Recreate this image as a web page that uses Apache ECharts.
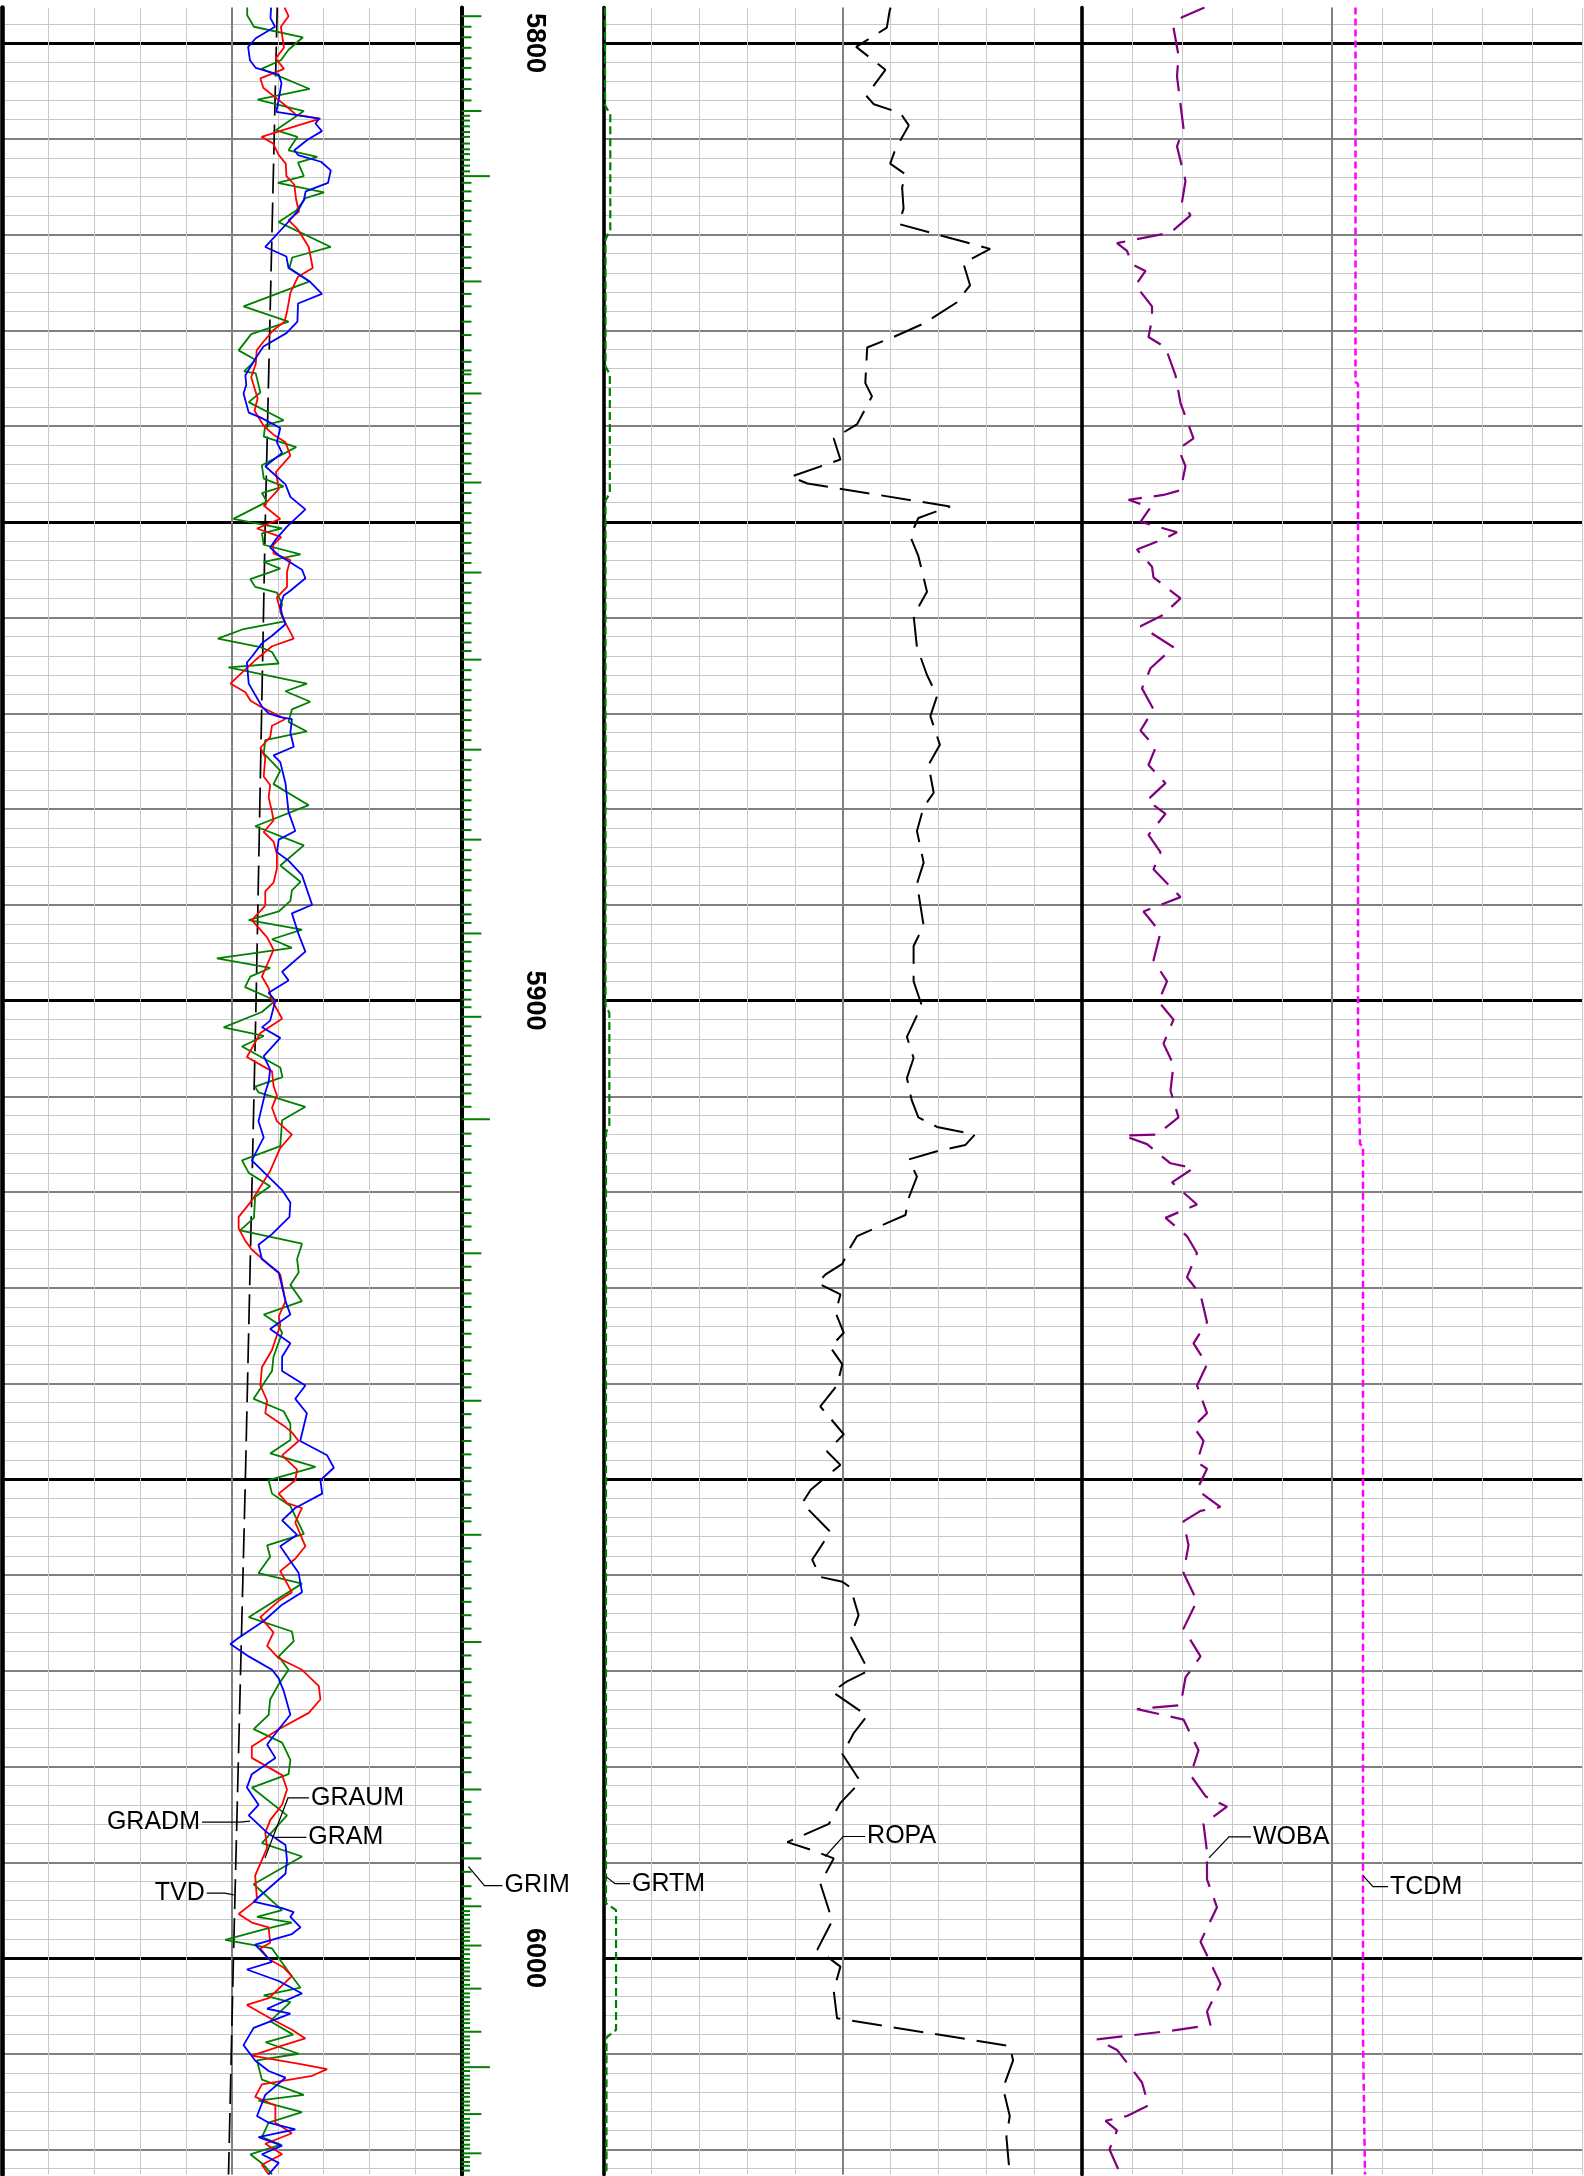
<!DOCTYPE html>
<html><head><meta charset="utf-8">
<script src="https://cdn.jsdelivr.net/npm/echarts@6/dist/echarts.min.js"></script>
<style>html,body{margin:0;padding:0;background:#fff}#c{width:1584px;height:2176px}</style>
</head><body><div id="c"></div>
<script>
const DEPTH_MIN = 5796.3, DEPTH_MAX = 6022.6;
const depthLabels = [5800, 5900, 6000];

// [depth, value] pairs
const GRAM = [[5796.3,80],[5797.1,80],[5798.3,82.2],[5799.4,98.2],[5800.7,93.5],[5801.8,91],[5802.7,84.7],[5804.8,100.4],[5805.9,83.4],[5807.1,98.5],[5809.1,89.3],[5809.8,96.4],[5811.2,93.5],[5811.9,102.9],[5812.5,96.6],[5813.9,98.5],[5814.6,90],[5815.6,105.1],[5816.2,99],[5817.5,96],[5818.7,90.3],[5821.3,107.3],[5822.4,94.7],[5823.5,93.8],[5824.9,100.4],[5827.5,78.8],[5829.1,93.5],[5830.4,81.3],[5832.1,77.2],[5833.1,82.8],[5834.3,79],[5834.5,82.8],[5836.5,84.3],[5837.5,80.5],[5839.4,91.9],[5839.9,85.9],[5841.1,85.4],[5842.2,96],[5844.1,84.8],[5845.5,85.4],[5846.3,91.9],[5847,84.8],[5847.9,86.5],[5849.7,75.5],[5850.7,91.4],[5851.2,84.8],[5852.4,85.4],[5853.4,97.4],[5854.2,85.4],[5854.9,90.8],[5856,81],[5856.8,82.6],[5857.4,89.7],[5858.6,91.4],[5859.4,90.8],[5860.4,92.2],[5861.2,78.8],[5862.2,70.4],[5863.1,84.3],[5863.6,88.1],[5864.8,90.3],[5865.2,73.9],[5866.9,99.5],[5867.7,92.5],[5868.8,100.6],[5869.6,94.6],[5870.9,93.5],[5871.9,99.5],[5872.8,85.9],[5874.2,85.4],[5876,90.8],[5877.4,88.6],[5879.6,100.1],[5881.8,82.6],[5883.8,98.5],[5885.9,90.8],[5887.6,97.4],[5888.5,94.6],[5889.6,94.1],[5890.7,90.3],[5891.6,80.5],[5892.6,97.9],[5893.6,88.1],[5894.5,94.6],[5895.6,70.1],[5896.6,87.5],[5897.5,81],[5898.6,79.3],[5900,89.2],[5901.2,84.8],[5902.8,72.3],[5903.7,85.4],[5904.8,78.3],[5907,90.8],[5908,91.5],[5909,82.6],[5909.6,83.7],[5911.1,99],[5912.5,91.4],[5915.2,90.8],[5916.7,78.3],[5918,80.5],[5919.4,87.5],[5920.5,82.6],[5922.7,82.2],[5924,77.7],[5925.4,97.9],[5927,96.3],[5928.4,96.8],[5929.7,94.1],[5931.4,97.9],[5932.8,85.4],[5933.7,89.7],[5934.7,91.4],[5937.2,88.6],[5938.7,88.1],[5941.6,82.1],[5942.9,91.9],[5944.2,94.1],[5945.9,94.1],[5947.3,87.5],[5948.7,102.3],[5950.1,87],[5951.5,88.1],[5952.8,94.1],[5955.7,98.5],[5956.9,86.5],[5958.1,87.5],[5959.8,83.7],[5960.9,97.9],[5964.4,80.5],[5965.9,94.6],[5966.9,95.2],[5968.5,90.3],[5969.9,93.5],[5971.4,90.3],[5973,87.5],[5974.6,87],[5976.1,82.1],[5977.5,91.4],[5979.3,94.1],[5980.8,93.5],[5982.2,81.5],[5985.1,93],[5988,84.8],[5989.4,97.9],[5992.3,82.1],[5995,91.4],[5995.7,83.2],[5996.3,94.6],[5997,85.4],[5998.1,72.8],[5999,88.1],[6000,90.3],[6001.7,94.1],[6003.1,97.4],[6003.9,85.4],[6004.6,94.1],[6006.6,87.5],[6008,95],[6008.8,86],[6010,96.8],[6010.7,83.2],[6012.7,84.8],[6014.3,98.5],[6014.9,83.7],[6016.1,97.9],[6017.2,87],[6018.7,84.8],[6019.5,91],[6020.5,81],[6021.6,85.4],[6022.6,88.1]];

const GRAUM = [[5796.3,92.2],[5797.2,93.5],[5798.3,91],[5800.5,92],[5801.6,89.3],[5802.7,92],[5803.7,84.3],[5804.7,85.3],[5805.7,89.3],[5806.6,92.8],[5807.5,96],[5807.9,103.9],[5808.6,96.6],[5809.8,84.7],[5810.5,88.5],[5811.7,90.3],[5812.6,92.6],[5813.9,92.8],[5814.8,95.4],[5816.4,96],[5817.6,96.9],[5818.5,93.5],[5819.5,96.6],[5821.3,100.1],[5823.5,101.4],[5824.4,96.6],[5826.1,94.1],[5827.9,93.1],[5829.1,92.2],[5830,88.5],[5831.2,85.3],[5832.1,83.1],[5833.5,82.8],[5834.9,81.3],[5837.1,83.4],[5838.4,82.4],[5840,85.4],[5840.9,88.6],[5841.7,92.5],[5843.1,94.1],[5844.8,89.4],[5846.6,90.3],[5848.3,85.4],[5849,88.1],[5849.7,90.8],[5850.7,83.2],[5851.6,91.1],[5852.4,88.5],[5853.3,88.6],[5854,94.1],[5855.2,93],[5856.8,93],[5857.9,89.7],[5859.9,91.4],[5862.2,95.2],[5863,88.1],[5864.3,83.2],[5865.6,78.8],[5866.9,74.5],[5867.8,79.4],[5868.7,81.1],[5869.3,84.3],[5870.6,92.5],[5871.3,88.1],[5872.5,87.5],[5873.6,84.3],[5874.6,85.9],[5876.6,85.4],[5877.5,87.5],[5878.8,87],[5880.3,88.1],[5881.2,88.6],[5882.4,85.4],[5883.4,88.6],[5884.7,89.7],[5886.2,89.7],[5887.7,88.6],[5888.6,85.9],[5890.1,85.9],[5891.6,81.5],[5893.4,86.5],[5894.7,88.6],[5897.5,84.8],[5898.7,87],[5900,88.1],[5901.9,91.4],[5903.4,84.3],[5905.9,79.9],[5907.4,88.1],[5908.9,88.6],[5909.9,89.7],[5911.2,88.1],[5912.6,89.7],[5914,94.6],[5915.4,90.8],[5917.8,87.5],[5920.9,81.5],[5922.6,77.2],[5923.8,77.2],[5925.1,79.4],[5926,81.5],[5927.9,88.1],[5928.6,90.8],[5931.4,92.5],[5933,90.3],[5933.9,90.8],[5936.5,88.1],[5938.3,84.8],[5940.2,84.3],[5941.8,86.5],[5943.1,85.9],[5944.4,91.9],[5945.1,94.6],[5946,96.8],[5947.5,91.4],[5949,96.3],[5950.1,95.7],[5951.5,90.3],[5952.5,93],[5953,97.9],[5954.5,95.7],[5957,99],[5958.3,95.7],[5959.6,90.8],[5961.8,94.6],[5962.7,90.3],[5964.4,84.3],[5966,88.6],[5967.4,86.5],[5968.7,90.3],[5969.9,97.9],[5971.6,103.4],[5973,103.9],[5974.4,100.1],[5976.1,90.3],[5977.9,81.5],[5979.1,81.5],[5980.9,91.4],[5982.4,93],[5984,91.4],[5985.6,87.5],[5986.9,85.9],[5988.5,86.5],[5991.4,82.6],[5993.9,83.2],[5995.4,77.2],[5996.3,81.5],[5996.8,87],[5998.4,87.5],[5999,84.3],[6000.1,87],[6001,91.9],[6001.9,94.6],[6004.2,87],[6004.9,79.9],[6006.4,88.1],[6007.5,94.6],[6008.4,99],[6009.1,91.9],[6010.2,81.5],[6011.1,97.9],[6011.6,106.1],[6012.3,101.2],[6013.2,84.8],[6014.5,82.6],[6015.4,89.2],[6017.2,89.2],[6018.3,94.6],[6019.4,85.9],[6020.5,91.4],[6021.6,84.8],[6022.6,87]];

const GRADM = [[5796.3,87.8],[5797.4,87.6],[5798.3,89.1],[5799.5,82.8],[5800.4,80.3],[5801.8,80.9],[5802.6,82.8],[5803.3,90.3],[5804.2,91.2],[5805.9,90.3],[5807.2,89.5],[5807.9,103.5],[5808.4,102.3],[5809.2,104.4],[5810.1,99.7],[5811.2,95.4],[5811.7,96.6],[5812.4,104.1],[5813.3,107.3],[5814.6,106.4],[5815.5,99.1],[5816.4,98.5],[5817.5,96.6],[5818.9,92.8],[5821.3,85.9],[5822.3,92.8],[5823.5,93.5],[5824.9,100.4],[5826.2,104.4],[5827.2,96.6],[5829.1,96.4],[5830.3,92.8],[5831.7,85.3],[5832.9,82.8],[5834.7,79.4],[5835.7,79.7],[5836.6,78.8],[5838.6,80.5],[5839.1,84.3],[5840.2,90.8],[5841.7,89.7],[5842.8,91.4],[5844.2,85.9],[5846.1,92.5],[5847.4,94.1],[5848.7,99],[5850.5,93],[5851.9,89.2],[5852.7,87.5],[5853.5,90.3],[5855,97.9],[5855.9,99],[5857.2,94.1],[5857.7,91.9],[5858.8,90.8],[5859.7,91.4],[5860.7,92.5],[5861.9,88.1],[5862.7,84.8],[5864.1,81.5],[5864.7,79.9],[5866.9,80.5],[5869.3,84.8],[5870,87],[5870.4,90.8],[5870.6,94.6],[5872,94.1],[5873.5,95.2],[5874.4,88.6],[5875.1,90.8],[5877.3,92.5],[5880.3,93.5],[5882.3,95.7],[5883.2,90.3],[5884.5,89.7],[5885.4,93.5],[5886.9,97.9],[5890,101.2],[5890.9,94.6],[5893.1,96.8],[5894.9,99],[5897,91.4],[5897.9,93.5],[5899.2,87],[5900,89.2],[5902.1,87.5],[5902.8,84.8],[5903.9,90.8],[5905.8,85.4],[5907.2,87.5],[5908.5,87],[5909.6,85.9],[5912.6,83.7],[5914.3,85.4],[5916.7,81.5],[5919.8,91.4],[5921.1,94.1],[5922.6,93.8],[5924.4,88.1],[5925.5,83.7],[5927,84.8],[5928.4,90.3],[5931.4,92.5],[5932.8,94.1],[5934.3,87.5],[5935.8,94.1],[5937.2,91.4],[5938.7,91.4],[5940.2,99],[5941.6,95.7],[5943.1,99.5],[5946,97.3],[5947.5,106.1],[5948.8,108.3],[5950.1,103.9],[5951.5,104.5],[5953,95.7],[5954.3,91.4],[5955.8,96.3],[5957,90.8],[5959.8,96.8],[5961.8,97.9],[5963.1,91.4],[5964.8,85.4],[5966.6,77],[5967.2,74.5],[5968.5,80.5],[5969.9,88.1],[5970.8,90.3],[5972.1,91.9],[5974.6,94.1],[5975.9,90.8],[5977.7,86.5],[5979.1,89.2],[5980.8,81.5],[5982.2,79.9],[5984,83.7],[5985.1,80.5],[5986.9,86.5],[5988.2,92.5],[5989.8,93],[5991.2,92.5],[5994.1,82.1],[5994.8,91.4],[5995.2,95.2],[5995.7,94.1],[5996.8,97.4],[5997.5,94.6],[5998.6,82.6],[5999.7,85.9],[6000.4,88.1],[6001.2,79.9],[6002.4,90.3],[6003.7,97.9],[6005.3,86.5],[6005.8,94.1],[6007.3,82.1],[6009.1,78.8],[6010.7,82.6],[6011.8,87],[6012.5,92.5],[6014.3,85.9],[6016.5,83.2],[6017.2,87],[6017.9,95.7],[6018.7,83.7],[6019.6,91.4],[6020.5,84.8],[6021.4,90.3],[6022.6,87]];

const TVD = [[5796.3,89.8],[5850,85.9],[5900,82.9],[5950,79.4],[6000,75.5],[6022.6,73.9]];

const GRIM = [[5797.2,14],[5798.3,7],[5799.4,7],[5800.5,7],[5801.6,7],[5802.6,7],[5803.8,7],[5804.8,7],[5806,7],[5807.1,14],
[5807.6,6],[5808.1,6],[5808.7,6],[5809.3,6],[5809.8,6],[5810.5,6],[5811.1,6],[5811.6,6],[5812.2,6],[5812.8,6],[5813.4,6],[5813.9,20],
[5814.6,7],[5815.5,7],[5816.5,7],[5817.5,7],[5818.6,7],[5820,7],[5821.3,7],[5822.4,7],[5823.5,7],[5824.9,14],[5826.2,7],[5827.5,7],[5829.1,7],[5830.5,7],[5832.1,7],[5833.3,7],[5834.2,7],[5834.6,7],[5835.5,7],[5836.6,14],
[5837.6,7],[5838.7,7],[5839.7,7],[5840.8,7],[5841.8,7],[5842.9,7],[5843.9,7],[5845,7],[5845.9,14],[5847,7],[5848,7],[5849.1,7],[5850.1,7],[5851.2,7],[5852.2,7],[5853.3,7],[5854.3,7],[5855.3,14],[5856.4,7],[5857.4,7],[5858.5,7],[5859.5,7],[5860.6,7],[5861.6,7],[5862.6,7],[5863.5,7],[5864.4,14],[5865.5,7],[5866.5,7],[5867.6,7],[5868.6,7],[5869.7,7],[5870.7,7],[5871.8,7],[5872.8,7],[5873.8,14],[5874.9,7],[5875.9,7],[5877,7],[5878,7],[5879.1,7],[5880.1,7],[5881.1,7],[5882.2,7],[5883.2,14],[5884.3,7],[5885.3,7],[5886.4,7],[5887.4,7],[5888.5,7],
[5890,7],[5891,7],[5891.9,7],[5893,14],[5893.9,7],[5894.9,7],[5895.9,7],[5896.9,7],[5897.9,7],[5898.9,7],[5899.9,7],[5900.7,7],[5901.7,14],[5902.7,7],[5903.7,7],[5904.7,7],[5905.8,7],[5906.7,7],[5907.7,7],[5908.8,7],[5909.7,7],[5911.1,7],[5912.4,20],[5913.9,7],[5915.2,7],[5916.6,7],[5918,7],[5919.4,7],
[5920.8,7],[5922.2,7],[5923.6,7],[5925,7],[5926.4,14],[5927.8,7],[5929.2,7],[5930.6,7],[5932,7],[5933.4,7],[5934.8,7],[5936.2,7],[5937.6,7],[5939,7],[5940.4,7],[5941.8,14],[5943.2,7],[5944.6,7],[5946,7],[5947.4,7],[5948.8,7],[5950.2,7],[5951.6,7],[5953,7],[5954.4,7],[5955.8,14],[5957.2,7],[5958.6,7],[5960,7],[5961.4,7],[5962.8,7],[5964.2,7],[5965.6,7],[5967,14],[5968.4,7],[5969.8,7],[5971.2,7],[5972.6,7],[5974,7],[5975.4,7],[5976.8,7],[5978,7],
[5979.1,7],[5980.6,7],[5982.4,14],[5983.7,7],[5985,7],[5986.4,7],[5988,7],[5989.6,14],[5991,7],[5992.5,7],[5993.8,7],
[5994.6,14],[5995.1,6],[5995.5,6],[5996,6],[5996.4,6],[5996.9,6],[5997.3,6],[5997.8,6],[5998.2,6],[5998.7,14],[5999.1,6],[5999.6,6],[6000.1,6],[6000.5,6],[6001,6],[6001.4,6],[6001.9,6],[6002.3,6],[6002.8,6],[6003.2,14],[6003.7,6],[6004.1,6],[6004.6,6],[6005,6],[6005.5,6],[6005.9,6],[6006.4,6],[6006.8,6],[6007.3,6],[6007.7,14],[6008.2,6],[6008.6,6],[6009.1,6],[6009.5,6],[6010,6],[6010.4,6],[6010.9,6],[6011.4,20],[6011.8,6],[6012.3,6],[6012.7,6],[6013.2,6],[6013.6,6],[6014.1,6],[6014.5,6],[6015,6],[6015.4,6],[6015.9,6],[6016.3,14],[6016.8,6],[6017.2,6],[6017.7,6],[6018.1,6],[6018.6,6],[6019,6],[6019.5,6],[6019.9,6],[6020.4,14],[6020.8,6],[6021.3,6],[6021.7,6],[6022.2,6]];

const GRTM = [[5796.3,0.3],[5806.5,0.3],[5807.5,1.4],[5819.5,1.4],[5820.5,0.4],[5833.8,0.4],[5834.6,1.3],[5847,1.3],[5847.8,0.4],[5900.5,0.4],[5901.3,1.2],[5913,1.2],[5913.8,0.5],[5994.3,0.5],[5995,2.6],[6007.5,2.6],[6008.3,0.6],[6022.6,0.6]];

const ROPA = [[5796.3,60],[5796.6,59.8],[5798.4,59.2],[5800.4,52.8],[5802.8,58.9],[5805.5,54.9],[5806.4,56.5],[5807.3,62],[5808.6,63.8],[5811.1,61],[5812.6,59.9],[5813.7,63.1],[5815.1,62.4],[5817.3,62.7],[5818.9,61.7],[5821.5,80.8],[5823,75.2],[5825.3,76.6],[5827.1,73.8],[5829.3,66.9],[5830.7,60.6],[5831.8,55.1],[5835.5,54.7],[5836.9,56.1],[5839.8,53],[5841.3,48.1],[5843.5,49.5],[5845.3,39.1],[5846,42.6],[5848.4,72.4],[5849.6,65.8],[5851.5,64.1],[5853.6,65.8],[5857.3,67.6],[5859.8,64.8],[5863.1,65.5],[5866,67.6],[5868.2,69.7],[5870.3,68.3],[5873.3,70.3],[5875.4,67.9],[5878.3,69],[5879.8,66.9],[5882.3,65.5],[5885.6,66.9],[5887.8,65.5],[5892.2,66.9],[5894.3,64.8],[5898,64.8],[5900.5,66.5],[5903.8,63.4],[5906,64.8],[5908.1,63.4],[5910.4,64.4],[5912.2,65.8],[5913.2,69.7],[5914,77.6],[5915.1,75.6],[5915.7,70],[5916.6,63.8],[5918.4,65.5],[5920.6,63.8],[5922.4,63.1],[5923.1,59.9],[5924.6,53],[5926,51.3],[5927.5,49.9],[5928.6,46.4],[5929.5,44.7],[5930.7,49.5],[5932.6,48.5],[5934.7,50.2],[5936.2,47.4],[5938,49.9],[5940.2,48.8],[5942.4,45.3],[5945.3,50.2],[5947.1,46.7],[5948.5,49.5],[5951.1,43.3],[5952.5,41.5],[5955.5,47.4],[5958.4,43.6],[5960.2,45.3],[5960.7,49.9],[5961.3,51.6],[5964.2,53.3],[5966.4,51.6],[5970,55.4],[5971.1,50.9],[5972.2,47.8],[5974.7,55.1],[5976.5,52.3],[5978.7,49.9],[5981.6,53.7],[5983.8,49.5],[5986,47.1],[5987.9,38.4],[5988.8,44],[5989.6,48.1],[5992.2,45.3],[5996.1,47.8],[5999.1,44.7],[6000.9,49.5],[6003.4,48.1],[6006.3,48.8],[6009.2,84.9],[6010.7,85.6],[6013.6,83.5],[6016.5,84.9],[6018.7,84.2],[6022.6,84.9]];

const WOBA = [[5796.3,24.5],[5797.3,20],[5798.4,18.3],[5801.3,19.3],[5803.5,19],[5808.9,20.3],[5810.8,19],[5814.4,20.7],[5816.6,20],[5818,21.7],[5819.8,17.7],[5820.9,7],[5821.7,9],[5823.1,10],[5823.8,12.7],[5825.3,10.7],[5827.5,14],[5828.9,14],[5830.7,13.3],[5831.8,16.7],[5834.7,18.7],[5837.6,19.7],[5841.3,22.3],[5842.4,19.3],[5844.2,20.7],[5846.7,19.7],[5847.2,16.3],[5847.7,9.3],[5848.5,13.7],[5850,11.7],[5851.1,19],[5851.8,16.3],[5852.9,11],[5854.7,14],[5855.8,14.3],[5858,19.7],[5859.8,16],[5860.9,11.7],[5863.1,18.3],[5865.3,13.7],[5867.4,12],[5869.6,14.3],[5871.8,11.7],[5873.6,14.7],[5875.4,13.3],[5877.3,16.7],[5879.1,13],[5880.5,16.7],[5882.7,13.3],[5884.5,15.7],[5886.3,14.3],[5889.2,19.7],[5890.7,12.3],[5892.9,15.7],[5895.8,14.3],[5898,17],[5900.1,15.3],[5902,18.3],[5904.5,16.3],[5906.7,18.3],[5909.4,17.7],[5912.2,19.3],[5914,15],[5914.1,8.3],[5915,13],[5917,17.7],[5917.5,22.3],[5919,18],[5921.3,23],[5922.7,16.7],[5924.6,21],[5926.4,23],[5928.9,21],[5930.7,23.7],[5933.6,25],[5935.8,22.3],[5938,25],[5940.2,23],[5943.1,25],[5944.5,22.3],[5946,24.3],[5948.2,23],[5948.9,25],[5951.1,23],[5952.9,27.7],[5953.3,23.7],[5954.4,20.3],[5956.9,21.3],[5959.8,20.3],[5962.7,23],[5965.6,20.3],[5968.5,23.7],[5970.7,20.7],[5973.6,19.7],[5974,11],[5975.1,20.3],[5978.3,23.3],[5980.9,21.7],[5983.1,24.7],[5984.2,29],[5986,24.3],[5988.9,25],[5991.8,25],[5994.7,27],[5998.3,23.7],[6002.7,27.7],[6005.6,25],[6007,25.7],[6007.6,17.7],[6008.5,3],[6009.6,7],[6011.4,9.7],[6013,12],[6015.4,13.3],[6016.5,9],[6017,4.7],[6018,7],[6020,5.5],[6022.6,7.7]];

const TCDM = [[5796.3,54.7],[5835.4,54.7],[5835.6,55.2],[5904,55.2],[5904.2,55.6],[5915,55.6],[5915.2,56.2],[6008.2,56.2],[6008.4,56.6],[6022.6,56.6]];

const chart = echarts.init(document.getElementById('c'), null, {renderer: 'canvas'});
const H = 2166.8, TOP = 7.6;
const grids = [
  {left: 2.3, top: TOP, width: 459.2, height: H},
  {left: 461.5, top: TOP, width: 142.1, height: H},
  {left: 603.6, top: TOP, width: 478.4, height: H},
  {left: 1082, top: TOP, width: 500, height: H}
];
const LIGHT = '#c8c8c8', DARK = '#808080', BLACK = '#000000';
const xAxes = [], yAxes = [];
const noAxis = {axisTick: {show: false}, axisLabel: {show: false}};
function addX(g, max, interval, color, width, showMax) {
  xAxes.push(Object.assign({type: 'value', gridIndex: g, min: 0, max: max, interval: interval, position: 'top',
    axisLine: {show: false},
    splitLine: {show: color != null, showMinLine: false, showMaxLine: !!showMax, lineStyle: {color: color || '#fff', width: width || 1}}}, noAxis));
  return xAxes.length - 1;
}
function addY(g, step, color, width, border) {
  yAxes.push(Object.assign({type: 'value', gridIndex: g, inverse: true, min: DEPTH_MIN, max: DEPTH_MAX,
    minInterval: step, maxInterval: step, position: border ? border.pos : 'left',
    axisLine: border ? {show: true, onZero: false, lineStyle: {color: BLACK, width: border.width}} : {show: false, onZero: false},
    splitLine: {show: color != null, showMinLine: false, showMaxLine: false, lineStyle: {color: color || '#fff', width: width || 1}}}, noAxis));
  return yAxes.length - 1;
}
const axes = [];
// track 1
axes[0] = {x: addX(0, 150, 15, LIGHT, 1, true)}; addX(0, 150, 75, DARK, 2);
axes[0].y = addY(0, 2, LIGHT, 1); addY(0, 10, DARK, 2); addY(0, 50, BLACK, 3, {pos: 'left', width: 4.6}); addY(0, 50, null, 1, {pos: 'right', width: 4});
// depth track
axes[1] = {x: addX(1, 100, 100, null)};
yAxes.push({type: 'value', gridIndex: 1, inverse: true, min: DEPTH_MIN, max: DEPTH_MAX, minInterval: 100, maxInterval: 100,
  position: 'left', axisLine: {show: false, onZero: false}, axisTick: {show: false}, splitLine: {show: false},
  axisLabel: {show: true, inside: true, rotate: -90, margin: 59, showMinLabel: false, showMaxLabel: false,
    fontFamily: '"Liberation Sans Narrow", "Liberation Sans", Arial, sans-serif', fontWeight: 'bold', fontSize: 27, color: '#000',
    formatter: v => depthLabels.includes(v) ? String(v) : ''}});
axes[1].y = yAxes.length - 1;
// track 2
axes[2] = {x: addX(2, 100, 10, LIGHT, 1, true)}; addX(2, 100, 50, DARK, 2);
axes[2].y = addY(2, 2, LIGHT, 1); addY(2, 10, DARK, 2); addY(2, 50, BLACK, 3, {pos: 'left', width: 3.6}); addY(2, 50, null, 1, {pos: 'right', width: 3.6});
// track 3
axes[3] = {x: addX(3, 100, 10, LIGHT, 1, true)}; addX(3, 100, 50, DARK, 2);
axes[3].y = addY(3, 2, LIGHT, 1); addY(3, 10, DARK, 2); addY(3, 50, BLACK, 3);

const toXY = arr => arr.map(p => [p[1], p[0]]);
function lineSeries(name, g, arr, color, width, dash, z) {
  return {name, type: 'line', xAxisIndex: axes[g].x, yAxisIndex: axes[g].y, data: toXY(arr), symbol: 'none',
    lineStyle: {color, width, type: dash || 'solid'}, silent: true, z: z || 3};
}
const series = [
  lineSeries('TVD', 0, TVD, '#000000', 1.7, [30, 9], 2),
  lineSeries('GRAM', 0, GRAM, '#008000', 1.8),
  lineSeries('GRAUM', 0, GRAUM, '#ff0000', 1.8),
  lineSeries('GRADM', 0, GRADM, '#0000ff', 1.8),
  {name: 'GRIM', type: 'custom', xAxisIndex: axes[1].x, yAxisIndex: axes[1].y, data: toXY(GRIM), silent: true, z: 3,
    renderItem: (params, api) => {
      const d = api.value(1), v = api.value(0);
      const a = api.coord([0, d]), b = api.coord([v, d]);
      return {type: 'line', shape: {x1: a[0], y1: a[1], x2: b[0], y2: b[1]}, style: {stroke: '#008000', lineWidth: 2}};
    }},
  lineSeries('GRTM', 2, GRTM, '#008000', 2.2, [8, 4]),
  lineSeries('ROPA', 2, ROPA, '#000000', 2, [30, 12]),
  lineSeries('WOBA', 3, WOBA, '#800080', 2.2, [26, 12]),
  lineSeries('TCDM', 3, TCDM, '#ff00ff', 2.5, [7, 4])
];

chart.setOption({
  animation: false,
  backgroundColor: '#ffffff',
  grid: grids,
  xAxis: xAxes,
  yAxis: yAxes,
  series: series
});

// curve name annotations with leader lines
const annotations = [
  {name: 'GRAUM', g: 0, at: [85.8, 5989.55], elbow: [23, -60], len: 21},
  {name: 'GRADM', g: 0, at: [80.9, 5985.7], elbow: [-10, 1], len: -38},
  {name: 'GRAM', g: 0, at: [89.2, 5987.4], elbow: [0, 0], len: 31},
  {name: 'TVD', g: 0, at: [75.6, 5993.4], elbow: [-9, -1.6], len: -18},
  {name: 'GRIM', g: 1, at: [4.9, 5990.45], elbow: [16, 19], len: 18},
  {name: 'GRTM', g: 2, at: [0.5, 5991.5], elbow: [9, 7], len: 15},
  {name: 'ROPA', g: 2, at: [46.3, 5989.4], elbow: [18, -20], len: 22},
  {name: 'WOBA', g: 3, at: [25.4, 5989.55], elbow: [20, -21], len: 22},
  {name: 'TCDM', g: 3, at: [56.2, 5991.4], elbow: [10, 11], len: 15}
];
const graphic = [];
annotations.forEach(a => {
  const p = chart.convertToPixel({xAxisIndex: axes[a.g].x, yAxisIndex: axes[a.g].y}, a.at);
  const e = [p[0] + a.elbow[0], p[1] + a.elbow[1]];
  const t = [e[0] + a.len, e[1]];
  graphic.push({type: 'polyline', silent: true, z: 10, shape: {points: [p, e, t]}, style: {stroke: '#000', lineWidth: 1.2, fill: null}});
  graphic.push({type: 'text', silent: true, z: 10, style: {text: a.name, x: t[0] + (a.len >= 0 ? 2 : -2), y: t[1],
    fontSize: 25, fontFamily: '"Liberation Sans", Arial, sans-serif', fill: '#000',
    textAlign: a.len >= 0 ? 'left' : 'right', textVerticalAlign: 'middle', verticalAlign: 'middle'}});
});
chart.setOption({graphic: graphic});
</script>
</body></html>
